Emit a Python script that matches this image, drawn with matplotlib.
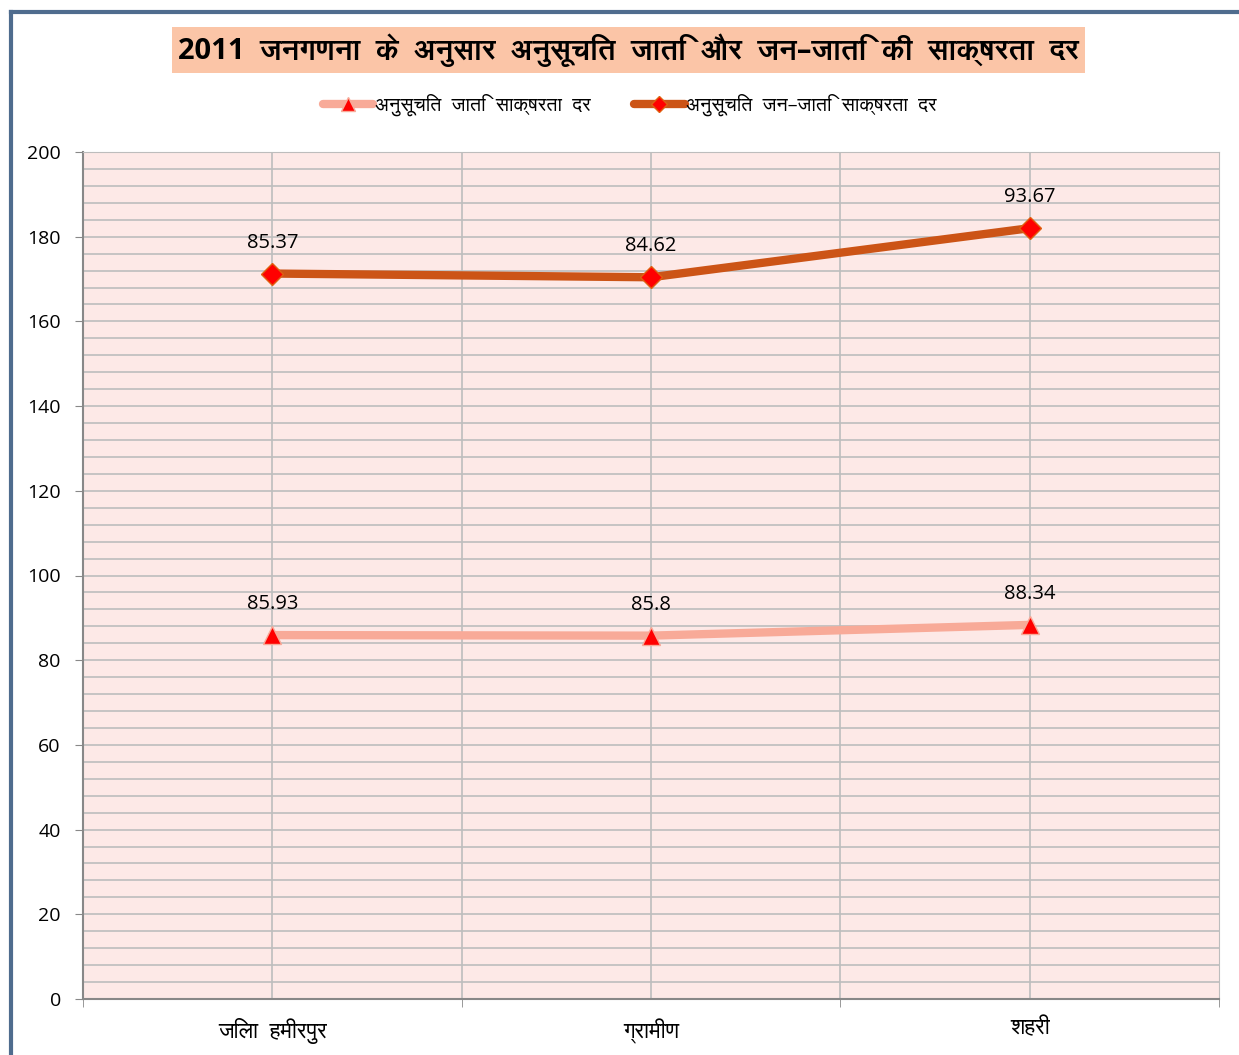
import matplotlib
matplotlib.use('Agg')
import matplotlib.pyplot as plt
from matplotlib import font_manager
from matplotlib.ft2font import FT2Font
from matplotlib.ticker import MultipleLocator
from matplotlib.patches import Rectangle

# data
categories = ['जिला  हमीरपुर', 'ग्रामीण', 'शहरी']
sc_rate = [85.93, 85.8, 88.34]
st_rate = [85.37, 84.62, 93.67]
series_names = ['अनुसूचित  जाति  साक्षरता  दर', 'अनुसूचित  जन–जाति  साक्षरता  दर']
title = '2011  जनगणना  के  अनुसार  अनुसूचित  जाति  और  जन–जाति  की  साक्षरता  दर'


# find installed fonts with devanagari glyphs, prefer a proportional sans one
def find_deva_font():
    found = []
    for f in font_manager.fontManager.ttflist:
        try:
            if ord('ज') in FT2Font(f.fname).get_charmap():
                found.append(f.name)
        except Exception:
            pass
    if not found:
        return None

    def rank(n):
        n = n.lower()
        r = 0
        if 'mono' in n or 'code' in n:
            r += 10
        if 'sans' not in n:
            r += 2
        if 'serif' in n:
            r += 3
        return r
    found.sort(key=rank)
    return found[0]


deva = find_deva_font()
fams = ['Open Sans'] + ([deva] if deva else []) + ['DejaVu Sans']
plt.rcParams['font.family'] = fams

# stacked values
st_stacked = [a + b for a, b in zip(sc_rate, st_rate)]
x = list(range(len(categories)))

fig = plt.figure(figsize=(12.39, 10.55), dpi=100)
ax = fig.add_axes([83 / 1239, 1 - 999 / 1055, (1219 - 83) / 1239, (999 - 152) / 1055])
ax.set_facecolor('#FDE9E7')

ax.set_xlim(-0.5, 2.5)
ax.set_ylim(0, 200)
ax.yaxis.set_major_locator(MultipleLocator(20))
ax.yaxis.set_minor_locator(MultipleLocator(4))
ax.set_xticks(x)
ax.set_xticks([-0.5, 0.5, 1.5, 2.5], minor=True)
ax.set_xticklabels(categories, fontsize=16)
ax.tick_params(axis='y', which='major', length=6, color='#888888', labelsize=14, pad=10)
ax.tick_params(axis='y', which='minor', length=0)
ax.tick_params(axis='x', which='major', length=0, pad=14)
ax.tick_params(axis='x', which='minor', length=6, color='#888888', direction='out')
ax.grid(True, which='both', axis='y', color='#BDBDBD', lw=1.2)
for xv in [0, 0.5, 1, 1.5, 2]:
    ax.axvline(xv, color='#BDBDBD', lw=1.2, zorder=1)
ax.set_axisbelow(True)
for s in ['top', 'right']:
    ax.spines[s].set_color('#BDBDBD')
for s in ['left', 'bottom']:
    ax.spines[s].set_color('#888888')
    ax.spines[s].set_linewidth(1.5)

l1, = ax.plot(x, sc_rate, color='#F8AA98', lw=6, marker='^', ms=13,
              mfc='#FF0000', mec='#F8AA98', mew=1, zorder=3, solid_capstyle='round')
l2, = ax.plot(x, st_stacked, color='#CC5416', lw=6, marker='D', ms=11,
              mfc='#FF0000', mec='#E06010', mew=1, zorder=3, solid_capstyle='round')

for xi, yv, v in zip(x, sc_rate, sc_rate):
    ax.annotate('{:g}'.format(v), (xi, yv), xytext=(0, 15), textcoords='offset points',
                ha='center', va='bottom', fontsize=14.5)
for xi, yv, v in zip(x, st_stacked, st_rate):
    ax.annotate('{:g}'.format(v), (xi, yv), xytext=(0, 15), textcoords='offset points',
                ha='center', va='bottom', fontsize=14.5)

fig.legend([l1, l2], series_names, loc='center', bbox_to_anchor=(630 / 1239, 1 - 105 / 1055),
           ncol=2, frameon=False, fontsize=14, handlelength=2.6, handletextpad=0.1,
           columnspacing=2.2, markerscale=0.75)

# title box
fig.patches.append(Rectangle((172 / 1239, 1 - 73 / 1055), (1085 - 172) / 1239, 46 / 1055,
                             transform=fig.transFigure, facecolor='#FBC5A7', edgecolor='none'))
fig.text(628 / 1239, 1 - 50 / 1055, title, ha='center', va='center', fontsize=21,
         fontweight='bold')

# chart border (left and top edges visible)
fig.add_artist(plt.Line2D([11 / 1239, 11 / 1239], [0, 1 - 12 / 1055], color='#4F6C8E', lw=3,
                          transform=fig.transFigure))
fig.add_artist(plt.Line2D([11 / 1239, 1], [1 - 12 / 1055, 1 - 12 / 1055], color='#4F6C8E', lw=3,
                          transform=fig.transFigure))

fig.savefig('out.png', dpi=100, facecolor='white')
